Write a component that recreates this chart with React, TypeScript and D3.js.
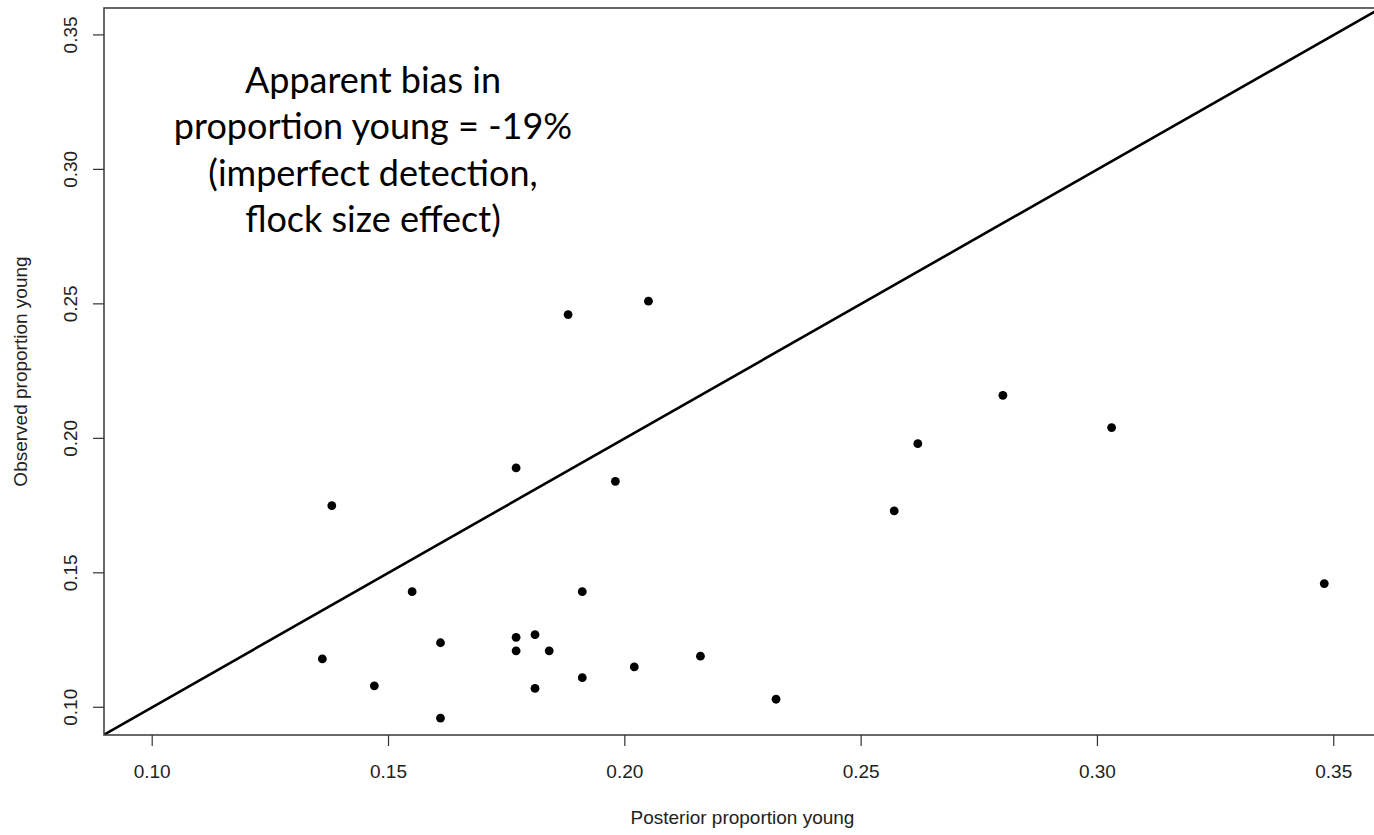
import React from "react"
import * as d3 from "d3"

// posterior (x) vs observed (y) proportion young
const posterior = [
	0.138, 0.136, 0.147, 0.155, 0.161, 0.161, 0.177, 0.177, 0.181, 0.177,
	0.184, 0.181, 0.188, 0.191, 0.191, 0.198, 0.202, 0.205, 0.216, 0.232,
	0.257, 0.262, 0.280, 0.303, 0.348
];
const observed = [
	0.175, 0.118, 0.108, 0.143, 0.124, 0.096, 0.189, 0.126, 0.127, 0.121,
	0.121, 0.107, 0.246, 0.143, 0.111, 0.184, 0.115, 0.251, 0.119, 0.103,
	0.173, 0.198, 0.216, 0.204, 0.146
];
const tickValues = [0.10, 0.15, 0.20, 0.25, 0.30, 0.35];
const noteLines = [
	"Apparent bias in",
	"proportion young = -19%",
	"(imperfect detection,",
	"flock size effect)"
];

const W = 1374, H = 835;
const M = { left: 104, top: 8, right: 1381, bottom: 735 };
const AXIS_FONT = "'Liberation Sans', Arial, sans-serif";

export default function App() {
	const x = d3.scaleLinear().domain([0.0898, 0.36]).range([M.left, M.right]);
	const y = d3.scaleLinear().domain([0.0897, 0.36]).range([M.bottom, M.top]);
	const fmt = d3.format(".2f");

	const points = posterior.map((p, i) => [p, observed[i]]);
	const diag = d3.line<number>().x(d => x(d)).y(d => y(d));

	return (
		<svg width={ W } height={ H } style={ { position: "absolute", left: 0, top: 0, background: "#fff" } }>
			<defs>
				<clipPath id="plot-clip">
					<rect x={ M.left } y={ M.top } width={ M.right - M.left } height={ M.bottom - M.top }/>
				</clipPath>
			</defs>

			<g clipPath="url(#plot-clip)">
				<path d={ diag([0.0897, 0.36]) || "" } stroke="#000" strokeWidth={ 2.6 } fill="none"/>
				{ points.map((d, i) =>
					<circle key={ i } cx={ x(d[0]) } cy={ y(d[1]) } r={ 4.4 } fill="#000"/>
				) }
			</g>

			<rect x={ M.left } y={ M.top } width={ M.right - M.left } height={ M.bottom - M.top }
				fill="none" stroke="#444" strokeWidth={ 1.6 }/>

			<g className="x axis" fontFamily={ AXIS_FONT } fontSize={ 19 } fill="#222">
				{ tickValues.map(t =>
					<g key={ t }>
						<line x1={ x(t) } x2={ x(t) } y1={ M.bottom } y2={ M.bottom + 11 } stroke="#333" strokeWidth={ 1.2 }/>
						<text x={ x(t) } y={ 778 } textAnchor="middle">{ fmt(t) }</text>
					</g>
				) }
			</g>

			<g className="y axis" fontFamily={ AXIS_FONT } fontSize={ 19 } fill="#222">
				{ tickValues.map(t =>
					<g key={ t }>
						<line x1={ M.left - 11 } x2={ M.left } y1={ y(t) } y2={ y(t) } stroke="#333" strokeWidth={ 1.2 }/>
						<text transform={ `translate(77, ${ y(t) }) rotate(-90)` } textAnchor="middle">{ fmt(t) }</text>
					</g>
				) }
			</g>

			<text x={ (M.left + M.right) / 2 } y={ 824 } textAnchor="middle" fontFamily={ AXIS_FONT } fontSize={ 19 } fill="#222">
				Posterior proportion young
			</text>
			<text transform={ `translate(27, ${ (M.top + M.bottom) / 2 }) rotate(-90)` } textAnchor="middle"
				fontFamily={ AXIS_FONT } fontSize={ 19 } fill="#222">
				Observed proportion young
			</text>

			<g fontFamily="Lato, 'Open Sans', sans-serif" fontSize={ 36 } fill="#000" textAnchor="middle">
				{ noteLines.map((s, i) =>
					<text key={ i } x={ 373 } y={ 93 + i * 46.3 }>{ s }</text>
				) }
			</g>
		</svg>
	)
}
